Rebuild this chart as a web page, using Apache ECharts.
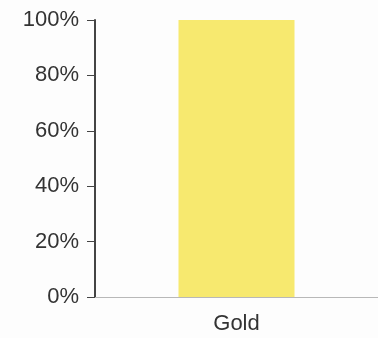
<!DOCTYPE html>
<html>
<head>
<meta charset="utf-8">
<script src="https://cdn.jsdelivr.net/npm/echarts@6/dist/echarts.min.js"></script>
<style>
  html, body { margin: 0; padding: 0; background: #fdfdfd; }
  #chart { width: 378px; height: 338px; }
</style>
</head>
<body>
<div id="chart"></div>
<script>
// Share of the holding, in percent
const categories = ['Gold'];
const shares = [100];
const yTicks = [0, 20, 40, 60, 80, 100];

const labelFont = 'Liberation Sans, Arial, Helvetica, sans-serif';

const chart = echarts.init(document.getElementById('chart'), null, { renderer: 'canvas' });
chart.setOption({
  backgroundColor: '#fdfdfd',
  animation: false,
  grid: { left: 95, right: 0, top: 20, bottom: 41 },
  xAxis: {
    type: 'category',
    data: categories,
    axisLine: { show: true, lineStyle: { color: '#b8b8b8', width: 1 } },
    axisTick: { show: false },
    axisLabel: { color: '#333', fontSize: 22, fontFamily: labelFont, margin: 16 }
  },
  yAxis: {
    type: 'value',
    min: yTicks[0],
    max: yTicks[yTicks.length - 1],
    interval: 20,
    axisLine: { show: true, lineStyle: { color: '#444', width: 2 } },
    axisTick: { show: true, length: 8, lineStyle: { color: '#444', width: 1 } },
    splitLine: { show: false },
    axisLabel: {
      color: '#333', fontSize: 22, fontFamily: labelFont, margin: 16,
      formatter: v => v + '%'
    }
  },
  series: [{
    type: 'bar',
    data: shares,
    barWidth: '41%',
    itemStyle: { color: '#f7e96f' }
  }]
});
</script>
</body>
</html>
